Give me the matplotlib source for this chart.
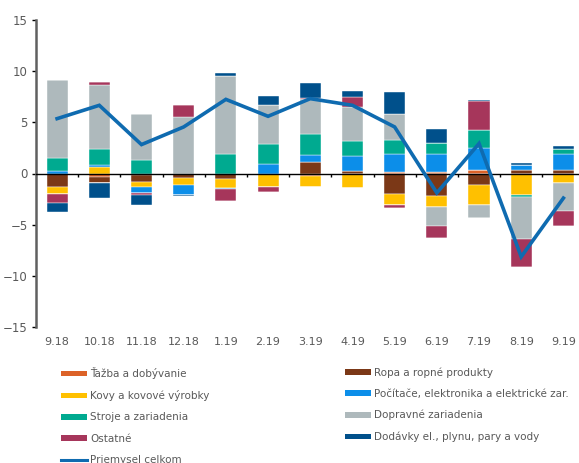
import numpy as np
import matplotlib
matplotlib.use('Agg')
import matplotlib.pyplot as plt
from matplotlib.patches import Patch
from matplotlib.lines import Line2D

# priemysel - prispevky odvetvi k medzirocnej zmene (p.b.)
months = ['9.18', '10.18', '11.18', '12.18', '1.19', '2.19', '3.19',
          '4.19', '5.19', '6.19', '7.19', '8.19', '9.19']

tazba = [0, -0.35, -0.15, 0, 0, 0, -0.2, 0, 0.15, 0.15, 0.3, 0, 0]
ropa = [-1.3, -0.55, -0.7, -0.4, -0.55, 0, 1.13, 0.2, -2.0, -2.2, -1.14, 0.3, 0.32]
kovy = [-0.74, 0.6, -0.5, -0.68, -0.85, -1.3, -1.07, -1.45, -1.05, -1.04, -1.95, -2.1, -0.9]
pocitace = [0.22, 0.25, -0.58, -0.97, -0.1, 0.88, 0.65, 1.55, 1.8, 1.8, 2.23, 0.5, 1.56]
stroje = [1.34, 1.53, 1.3, 0, 1.95, 2.04, 2.05, 1.46, 1.3, 1.03, 1.69, -0.23, 0.5]
dopravne = [7.6, 6.23, 4.55, 5.51, 7.53, 3.73, 3.48, 3.3, 2.53, -1.9, -1.24, -4.06, -2.76]
ostatne = [-0.88, 0.32, -0.13, 1.2, -1.2, -0.5, 0.05, 0.97, -0.33, -1.14, 2.82, -2.7, -1.46]
dodavky = [-0.88, -1.5, -1.0, -0.13, 0.36, 0.88, 1.5, 0.58, 2.12, 1.4, 0.1, 0.2, 0.3]
celkom = [5.35, 6.65, 2.82, 4.54, 7.23, 5.58, 7.3, 6.65, 4.54, -1.89, 2.92, -8.12, -2.4]

series = [
    ('Ťažba a dobývanie', tazba, '#DC6228'),
    ('Ropa a ropné produkty', ropa, '#7B3817'),
    ('Kovy a kovové výrobky', kovy, '#FFC000'),
    ('Počítače, elektronika a elektrické zar.', pocitace, '#0C8EE9'),
    ('Stroje a zariadenia', stroje, '#00AA90'),
    ('Dopravné zariadenia', dopravne, '#AEB9BC'),
    ('Ostatné', ostatne, '#A6365B'),
    ('Dodávky el., plynu, pary a vody', dodavky, '#00508B'),
]
line_color = '#0F6BB0'
txt = '#595959'

plt.rcParams['font.family'] = ['DejaVu Sans']

fig = plt.figure(figsize=(5.79, 4.63), dpi=100)
ax = fig.add_axes([36 / 579, 1 - 327.3 / 463, 548.5 / 579, 307.6 / 463])

x = np.arange(len(months))
pos_bottom = np.zeros(len(months))
neg_bottom = np.zeros(len(months))
handles = []
for name, vals, col in series:
    v = np.array(vals, dtype=float)
    pos = np.where(v > 0, v, 0)
    neg = np.where(v < 0, v, 0)
    ax.bar(x, pos, 0.5, bottom=pos_bottom, color=col, edgecolor='white', linewidth=0.3, zorder=2)
    ax.bar(x, neg, 0.5, bottom=neg_bottom, color=col, edgecolor='white', linewidth=0.3, zorder=2)
    pos_bottom += pos
    neg_bottom += neg
    handles.append(Patch(facecolor=col, label=name))

ax.plot(x, celkom, color=line_color, lw=2.6, zorder=4, solid_joinstyle='miter')

ax.axhline(0, color='black', lw=1, zorder=3)
ax.vlines(np.arange(len(months) - 1) + 0.5, -0.3, 0, color='black', lw=1, zorder=3)

ax.set_xlim(-0.5, len(months) - 0.5)
ax.set_ylim(-15, 15)
ax.set_yticks([-15, -10, -5, 0, 5, 10, 15])
ax.set_xticks(x)
ax.set_xticklabels(months)
ax.tick_params(axis='x', length=0, pad=7, labelsize=8, labelcolor=txt)
ax.tick_params(axis='y', length=3, width=1, color='black', pad=3, labelsize=8.5, labelcolor=txt)
for s in ['top', 'right', 'bottom']:
    ax.spines[s].set_visible(False)
ax.spines['left'].set_color('#606060')
ax.spines['left'].set_linewidth(1.8)

line_handle = Line2D([0], [0], color=line_color, lw=2.2, label='Priemysel celkom')
left = [handles[0], handles[2], handles[4], handles[6], line_handle]
right = [handles[1], handles[3], handles[5], handles[7]]
kw = dict(frameon=False, fontsize=7.5, labelcolor=txt, handlelength=2.5,
          handleheight=0.45, handletextpad=0.3, labelspacing=1.07, borderpad=0)
fig.legend(handles=left, loc='upper left', bbox_to_anchor=(56 / 579, 1 - 362 / 463), **kw)
fig.legend(handles=right, loc='upper left', bbox_to_anchor=(340 / 579, 1 - 362 / 463), **kw)

fig.savefig('out.png', dpi=100)
